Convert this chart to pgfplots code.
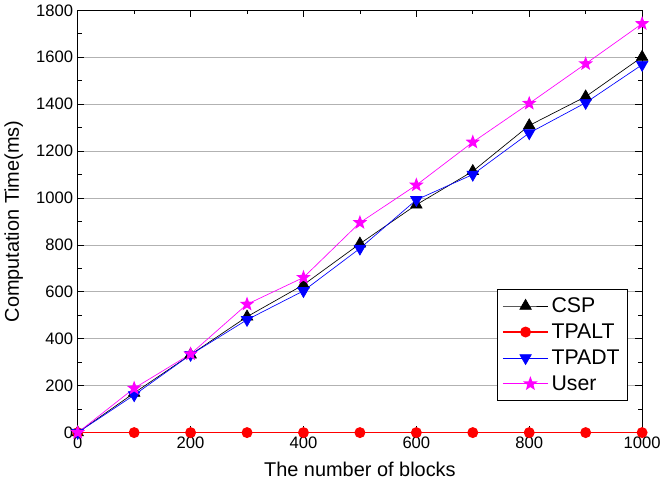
\documentclass[border=0pt]{standalone}
\usepackage{pgfplots}
\pgfplotsset{compat=1.18}
\usepackage{fontspec}
\setmainfont{Liberation Sans}
\usetikzlibrary{shapes.geometric}
\definecolor{mag}{RGB}{255,0,255}
\definecolor{myred}{RGB}{255,0,0}
\definecolor{myblue}{RGB}{0,0,255}
\pgfdeclareplotmark{fstar}{\node[star, star points=5, star point ratio=2.4, fill, draw=none, inner sep=0pt, minimum size=2.4\pgfplotmarksize] {};}
\begin{document}
\begin{tikzpicture}[x=1pt,y=1pt]
\begin{axis}[
  scale only axis,
  width=425pt, height=318pt,
  xmin=0, xmax=1000, ymin=0, ymax=1800,
  xtick={0,200,...,1000}, ytick={0,200,...,1800},
  minor xtick={100,300,...,900}, minor ytick={100,300,...,1700},
  tick align=inside,
  major tick length=5pt, minor tick length=3pt,
  ymajorgrids, major grid style={gray!60, line width=0.6pt},
  axis line style={line width=0.9pt},
  every tick/.style={black, line width=0.6pt},
  /pgf/number format/assume math mode=true,
  /pgf/number format/1000 sep={},
  tick label style={font=\fontsize{12.5}{14}\selectfont},
  label style={font=\fontsize{15}{17}\selectfont},
  xlabel={The number of blocks},
  ylabel={Computation Time(ms)},
  xlabel style={yshift=-3pt},
  ylabel style={yshift=3pt},
  legend style={at={(0.975,0.076)}, anchor=south east, font=\fontsize{16}{18}\selectfont, draw=black, line width=0.6pt, inner sep=4pt, row sep=3pt},
  legend cell align=left,
  legend image code/.code={\draw[mark repeat=2, mark phase=2] plot coordinates {(0cm,0cm) (0.6cm,0cm) (1.2cm,0cm)};},
]
\addplot[black, line width=0.5pt, mark=triangle*, mark size=5pt, mark options={solid}] coordinates {
(0,0) (100,169) (200,332) (300,494) (400,630) (500,805) (600,971) (700,1114) (800,1309) (900,1432) (1000,1601)};
\addlegendentry{CSP}
\addplot[myred, line width=1pt, mark=*, mark size=3.6pt, mark options={solid}] coordinates {
(0,0) (100,0) (200,0) (300,0) (400,0) (500,0) (600,0) (700,0) (800,0) (900,0) (1000,0)};
\addlegendentry{TPALT}
\addplot[myblue, line width=0.5pt, mark=triangle*, mark size=5pt, mark options={solid, rotate=180}] coordinates {
(0,0) (100,160) (200,332) (300,481) (400,604) (500,785) (600,992) (700,1100) (800,1277) (900,1406) (1000,1568)};
\addlegendentry{TPADT}
\addplot[mag, line width=0.5pt, mark=fstar, mark size=4.8pt, mark options={solid}] coordinates {
(0,0) (100,189) (200,335) (300,547) (400,661) (500,895) (600,1055) (700,1238) (800,1403) (900,1572) (1000,1743)};
\addlegendentry{User}
\end{axis}
\end{tikzpicture}
\end{document}
